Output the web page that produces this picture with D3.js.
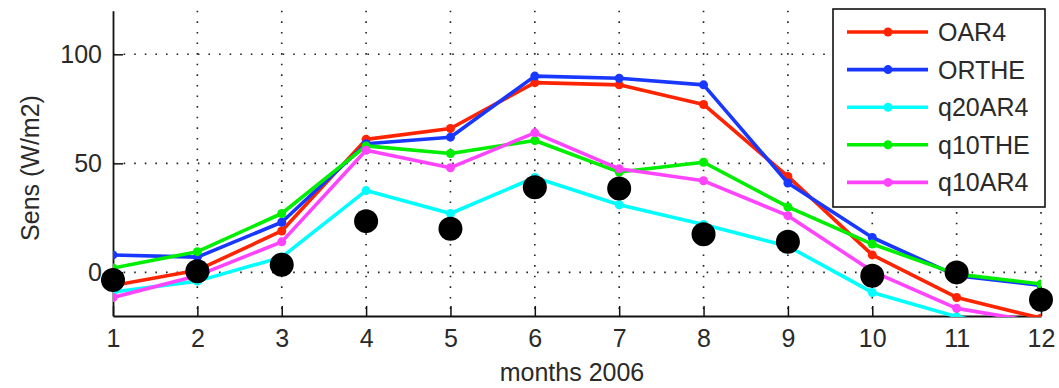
<!DOCTYPE html>
<html>
<head>
<meta charset="utf-8">
<script src="https://cdn.jsdelivr.net/npm/d3@7"></script>
<style>
  body { margin: 0; background: #fff; }
  text { font-family: "Liberation Sans", Arial, sans-serif; }
</style>
</head>
<body>
<svg width="1059" height="388"></svg>
<script>
// months 2006
let months = [1, 2, 3, 4, 5, 6, 7, 8, 9, 10, 11, 12];
let yTicks = [0, 50, 100];

let seriesNames = ["OAR4", "ORTHE", "q20AR4", "q10THE", "q10AR4"];
let seriesColors = ["#ff2400", "#1838ff", "#00ffff", "#00ee00", "#ff44ff"];

let OAR4   = [-6, 1, 19, 61, 66, 87, 86, 77, 44, 8, -11.5, -21];
let ORTHE  = [8, 7, 23, 59, 62, 90, 89, 86, 41, 16, -1.5, -6];
let q20AR4 = [-9, -4, 7, 37.5, 27, 43.5, 31, 22, 12, -9.2, -20.3, -28];
let q10THE = [2, 9.5, 27, 58, 54.5, 60.5, 46, 50.5, 30, 13, -0.8, -5.3];
let q10AR4 = [-11.5, -1.5, 14, 56, 48, 64, 47.5, 42, 26, 0.5, -16.5, -23];

// black dots
let obs = [-3.5, 0.5, 3.5, 23.5, 20, 39, 38.5, 17.5, 14, -1.5, 0, -12.5];

let seriesValues = [OAR4, ORTHE, q20AR4, q10THE, q10AR4];

let svg = d3.select("svg");
let plotLeft = 113, plotRight = 1041, plotTop = 10.7, plotBottom = 316;
let textColor = "#2a2a2a";

let x = d3.scaleLinear().domain([1, 12]).range([plotLeft, plotRight]);
let y = d3.scaleLinear().domain([-20, 120]).range([plotBottom, plotTop]);

svg.append("defs").append("clipPath").attr("id", "plotclip")
  .append("rect")
  .attr("x", plotLeft).attr("y", plotTop)
  .attr("width", plotRight - plotLeft).attr("height", plotBottom - plotTop + 1);

// dotted grid
let grid = svg.append("g").attr("class", "grid");
grid.selectAll("line.v")
  .data(months.slice(1))
  .enter().append("line")
  .attr("x1", d => x(d)).attr("x2", d => x(d))
  .attr("y1", plotTop).attr("y2", plotBottom)
  .attr("stroke", "#222").attr("stroke-width", 1.6)
  .attr("stroke-dasharray", "1.6,9");
grid.selectAll("line.h")
  .data(yTicks)
  .enter().append("line")
  .attr("x1", plotLeft).attr("x2", plotRight)
  .attr("y1", d => y(d)).attr("y2", d => y(d))
  .attr("stroke", "#222").attr("stroke-width", 1.6)
  .attr("stroke-dasharray", "1.6,9");

// axes, ticks pointing inward
let xAxis = d3.axisBottom(x).tickValues(months).tickSizeInner(-10).tickSizeOuter(0).tickPadding(13);
let yAxis = d3.axisLeft(y).tickValues(yTicks).tickSizeInner(-10).tickSizeOuter(0).tickPadding(11);

let gx = svg.append("g").attr("transform", "translate(0," + plotBottom + ")").call(xAxis);
let gy = svg.append("g").attr("transform", "translate(" + plotLeft + ",0)").call(yAxis);

[gx, gy].forEach(function(g) {
  g.select(".domain").attr("stroke", "#111").attr("stroke-width", 1.8);
  g.selectAll(".tick line").attr("stroke", "#111").attr("stroke-width", 1.5);
  g.selectAll(".tick text")
    .attr("font-family", "Liberation Sans, Arial, sans-serif")
    .attr("font-size", 25)
    .attr("fill", textColor);
});

// series
let line = d3.line()
  .x((d, i) => x(months[i]))
  .y(d => y(d));

let plot = svg.append("g").attr("clip-path", "url(#plotclip)");

seriesValues.forEach(function(vals, k) {
  plot.append("path")
    .datum(vals)
    .attr("fill", "none")
    .attr("stroke", seriesColors[k])
    .attr("stroke-width", 3.6)
    .attr("stroke-linejoin", "round")
    .attr("d", line);
  plot.selectAll(null)
    .data(vals)
    .enter().append("circle")
    .attr("cx", (d, i) => x(months[i]))
    .attr("cy", d => y(d))
    .attr("r", 4.5)
    .attr("fill", seriesColors[k]);
});

svg.append("g").selectAll("circle")
  .data(obs)
  .enter().append("circle")
  .attr("cx", (d, i) => x(months[i]))
  .attr("cy", d => y(d))
  .attr("r", 12)
  .attr("fill", "#000");

// axis labels
svg.append("text")
  .attr("x", 572).attr("y", 381)
  .attr("text-anchor", "middle")
  .attr("font-size", 25).attr("fill", textColor)
  .text("months 2006");

svg.append("text")
  .attr("transform", "translate(39,168) rotate(-90)")
  .attr("text-anchor", "middle")
  .attr("font-size", 25).attr("fill", textColor)
  .text("Sens (W/m2)");

// legend
let legend = svg.append("g");
legend.append("rect")
  .attr("x", 833).attr("y", 9)
  .attr("width", 212).attr("height", 198)
  .attr("fill", "#fff").attr("stroke", "#111").attr("stroke-width", 1.6);

let rows = legend.selectAll("g.row")
  .data(seriesNames)
  .enter().append("g")
  .attr("transform", (d, i) => "translate(0," + (32 + i * 37.6) + ")");
rows.append("line")
  .attr("x1", 847).attr("x2", 928)
  .attr("stroke", (d, i) => seriesColors[i])
  .attr("stroke-width", 3.6);
rows.append("circle")
  .attr("cx", 888).attr("r", 4.5)
  .attr("fill", (d, i) => seriesColors[i]);
rows.append("text")
  .attr("x", 938).attr("y", 9)
  .attr("font-size", 25).attr("fill", textColor)
  .text(d => d);
</script>
</body>
</html>
